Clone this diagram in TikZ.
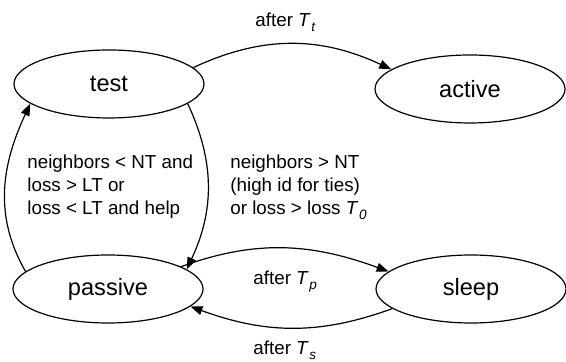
\documentclass[tikz,border=0pt]{standalone}
\usepackage{fontspec}
\setmainfont{Liberation Sans}
\usetikzlibrary{arrows.meta, shapes.geometric}

\newcommand{\Tsub}[1]{\textit{T}\kern0.3pt\raisebox{-2.5pt}{\fontsize{6.8}{7}\selectfont\textit{#1}}}

\begin{document}
\begin{tikzpicture}[x=0.5pt, y=0.5pt,
  state/.style={draw, ellipse, line width=0.6pt, minimum width=95pt, minimum height=34pt,
    inner sep=0pt, font=\fontsize{11.8}{14}\selectfont},
  arr/.style={-{Triangle[length=6pt, width=4.5pt]}, line width=0.6pt},
  lbl/.style={anchor=base west, inner sep=0pt, align=left, font=\fontsize{9.4}{11.5}\selectfont}]
\useasboundingbox (0,0) rectangle (566,362);
% the four states
\foreach \name/\x/\y in {test/109/278, active/470/273, passive/108/73, sleep/471/73} {
  \node[state] (\name) at (\x,\y) {\name};
}
% transitions
\draw[arr] (test.11) to[out=25, in=155] (active.166);
\draw[arr] (test.-14) to[out=-65, in=65] (passive.14);
\draw[arr] (passive.168) to[out=120, in=-115] (test.194);
\draw[arr] (passive.17) to[out=20, in=160] (sleep.168);
\draw[arr] (sleep.194) to[out=-160, in=-20] (passive.-12);
% labels (base = last line)
\node[lbl] (lblTt) at (255,335) {after \Tsub{t}};
\node[lbl] (lblTp) at (253,77) {after \Tsub{p}};
\node[lbl] (lblTs) at (253,7) {after \Tsub{s}};
\node[lbl] (lblback) at (27,147) {neighbors < NT and\\loss > LT or\\loss < LT and help};
\node[lbl] (lblpass) at (230,147) {neighbors > NT\\(high id for ties)\\or loss > loss \Tsub{0}};
\end{tikzpicture}
\end{document}
